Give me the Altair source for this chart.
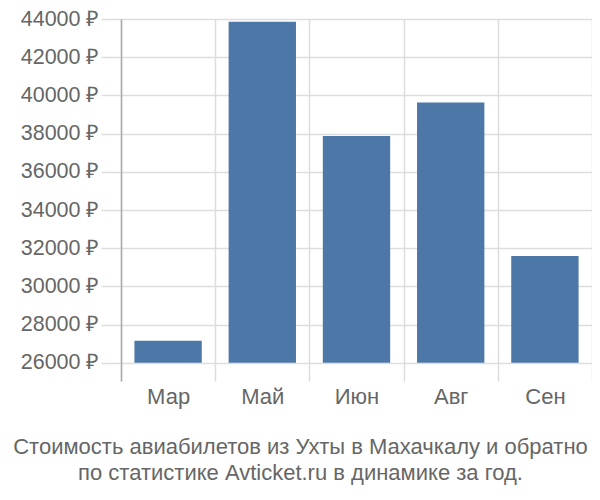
import altair as alt
import pandas as pd

months = ["Мар", "Май", "Июн", "Авг", "Сен"]
prices = [27160, 43860, 37880, 39630, 31590]
y_ticks = [26000, 28000, 30000, 32000, 34000, 36000, 38000, 40000, 42000, 44000]
baseline = 26000
y_min = 25050
y_max = 44000
title_lines = ["Стоимость авиабилетов из Ухты в Махачкалу и обратно",
               "по статистике Avticket.ru в динамике за год."]

df = pd.DataFrame({"month": months, "price": prices})

FONT = "Liberation Sans"

chart = alt.Chart(df).mark_bar(color="#4c77a6", width=alt.RelativeBandSize(0.715)).encode(
    x=alt.X("month:N", sort=months,
            scale=alt.Scale(paddingInner=0, paddingOuter=0),
            axis=alt.Axis(title=None, labelAngle=0, labelFontSize=22, labelColor="#666",
                          labelFont=FONT, labelPadding=5, ticks=False, domain=False,
                          grid=True, gridColor="#dddddd", gridWidth=1.5,
                          tickBand="extent")),
    y=alt.Y("price:Q",
            scale=alt.Scale(domain=[y_min, y_max], nice=False, zero=False),
            axis=alt.Axis(title=None, values=y_ticks, labelExpr="datum.value + ' ₽'",
                          labelFontSize=21.5, labelColor="#666", labelFont=FONT,
                          labelPadding=2, tickSize=20, tickColor="#dddddd", tickWidth=1.5,
                          gridColor="#dddddd", gridWidth=1.5,
                          domainColor="#aaaaaa", domainWidth=1.5)),
    y2=alt.datum(baseline),
).properties(
    width=471,
    height=362,
    autosize=alt.AutoSizeParams(type="none"),
    padding={"left": 113, "top": 11, "right": 0, "bottom": 105},
    title=alt.TitleParams(text=title_lines, orient="bottom", anchor="middle",
                          fontSize=22, font=FONT, fontWeight="normal", color="#666",
                          lineHeight=26, offset=30, dx=-56),
).configure_view(stroke=None)

chart.save("out.html", embed_options={"renderer": "svg", "actions": False})
